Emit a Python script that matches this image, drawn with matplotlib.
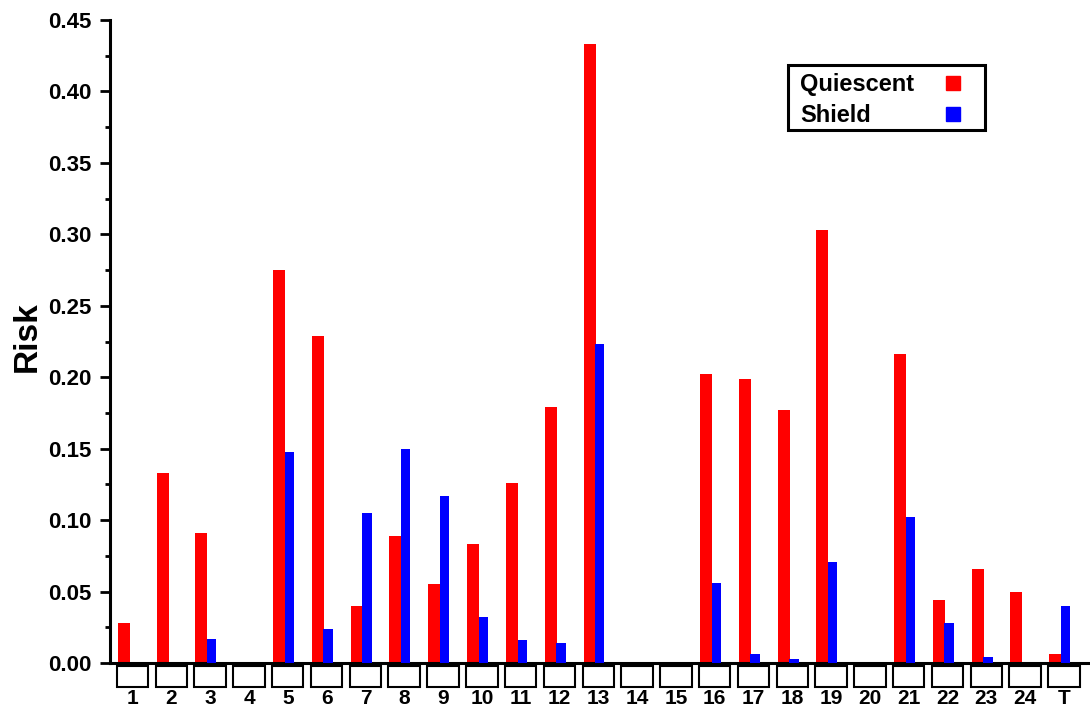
import matplotlib
matplotlib.use("Agg")
import matplotlib.pyplot as plt
from matplotlib.patches import Rectangle
from matplotlib.transforms import blended_transform_factory
from matplotlib.ticker import MultipleLocator, FormatStrFormatter

plt.rcParams['font.family'] = ['Liberation Sans', 'DejaVu Sans']
plt.rcParams['font.weight'] = 'bold'

categories = ['1', '2', '3', '4', '5', '6', '7', '8', '9', '10', '11', '12', '13',
              '14', '15', '16', '17', '18', '19', '20', '21', '22', '23', '24', 'T']
quiescent = [0.028, 0.133, 0.091, 0.0, 0.275, 0.229, 0.040, 0.089, 0.055, 0.083,
             0.126, 0.179, 0.433, 0.0, 0.0, 0.202, 0.199, 0.177, 0.303, 0.0,
             0.216, 0.044, 0.066, 0.050, 0.006]
shield = [0.0, 0.0, 0.017, 0.0, 0.148, 0.024, 0.105, 0.150, 0.117, 0.032,
          0.016, 0.014, 0.223, 0.0, 0.0, 0.056, 0.006, 0.003, 0.071, 0.0,
          0.102, 0.028, 0.004, 0.0, 0.040]
series_names = ['Quiescent', 'Shield']

RED = '#FF0000'
BLUE = '#0000FF'

fig = plt.figure(figsize=(10.9, 7.11), dpi=100)
ax = fig.add_axes([110/1090, 1 - 663/711, 1 - 110/1090, (663 - 20)/711])

x = list(range(1, len(categories) + 1))
ax.bar([xi - 0.38 for xi in x], quiescent, width=0.31, align='edge', color=RED,
       label=series_names[0], zorder=2)
ax.bar([xi - 0.08 for xi in x], shield, width=0.24, align='edge', color=BLUE,
       label=series_names[1], zorder=3)

ax.set_xlim(0.42, 25.67)
ax.set_ylim(0, 0.45)

for s in ['top', 'right']:
    ax.spines[s].set_visible(False)
for s in ['left', 'bottom']:
    ax.spines[s].set_linewidth(2.2)

ax.yaxis.set_major_locator(MultipleLocator(0.05))
ax.yaxis.set_minor_locator(MultipleLocator(0.025))
ax.yaxis.set_major_formatter(FormatStrFormatter('%.2f'))
ax.tick_params(axis='y', which='major', length=7, width=2, pad=6, labelsize=16)
ax.tick_params(axis='y', which='minor', length=3.5, width=2)
ax.set_xticks(x)
ax.set_xticklabels(categories)
ax.tick_params(axis='x', length=0, pad=19, labelsize=15)

# boxes under each category
trans = blended_transform_factory(ax.transData, ax.transAxes)
box_top = -0.005
box_bot = -0.038
for xi in x:
    ax.add_patch(Rectangle((xi - 0.405, box_bot), 0.81, box_top - box_bot,
                           transform=trans, facecolor='white', edgecolor='black',
                           linewidth=1.5, clip_on=False))

ax.set_ylabel('Risk', fontsize=24, fontweight='bold')
ax.yaxis.set_label_coords(-0.069, 0.508)

# legend (text left-aligned, marker on the right)
def ax_x(px):
    return (px - 110) / 980

def ax_y(py):
    return (663 - py) / 643

ax.add_patch(Rectangle((ax_x(788), ax_y(130)), ax_x(985) - ax_x(788),
                       ax_y(65) - ax_y(130), transform=ax.transAxes,
                       facecolor='white', edgecolor='black', linewidth=2.2,
                       zorder=5, clip_on=False))
for name, col, base_py, mark_py in [(series_names[0], RED, 91, 83),
                                    (series_names[1], BLUE, 122, 114)]:
    ax.text(ax_x(800), ax_y(base_py), name, transform=ax.transAxes,
            ha='left', va='baseline', fontsize=17, fontweight='bold', zorder=6)
    ax.plot([ax_x(953)], [ax_y(mark_py)], transform=ax.transAxes, marker='s',
            markersize=9.4, color=col, linestyle='none', zorder=6, clip_on=False)

fig.savefig('out.png', dpi=100)
